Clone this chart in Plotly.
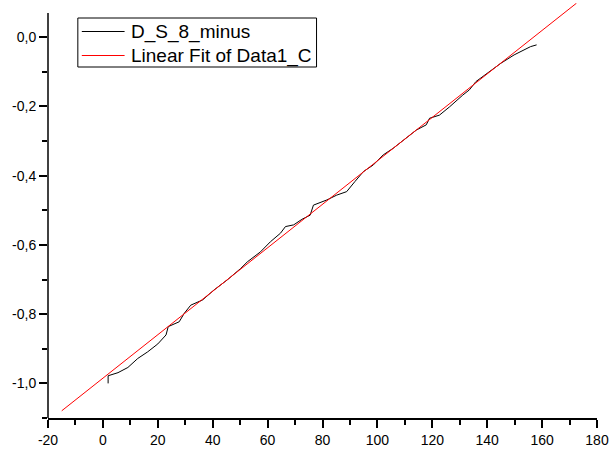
import plotly.graph_objects as go

# Measured cumulative curve (step data)
ds_x = [1.9, 1.9, 5.5, 9.1, 12.7, 16.3, 20.0, 23.0, 23.8, 27.8, 29.6, 32.0, 36.3,
        40.5, 45.3, 50.2, 52.6, 57.4, 61.0, 64.7, 66.5, 69.5, 72.5, 75.5, 76.7,
        81.6, 85.2, 88.8, 91.8, 94.9, 98.5, 102.1, 105.7, 108.7, 111.7, 114.2,
        117.8, 119.0, 122.6, 126.3, 131.1, 133.5, 135.9, 140.8, 145.0, 149.8,
        153.4, 155.8, 158.0]
ds_y = [-1.000, -0.978, -0.969, -0.954, -0.928, -0.909, -0.886, -0.860, -0.836,
        -0.822, -0.798, -0.774, -0.759, -0.730, -0.701, -0.668, -0.649, -0.620,
        -0.591, -0.566, -0.547, -0.542, -0.526, -0.514, -0.485, -0.470, -0.456,
        -0.446, -0.417, -0.388, -0.369, -0.340, -0.321, -0.302, -0.282, -0.268,
        -0.253, -0.234, -0.225, -0.201, -0.167, -0.152, -0.128, -0.099, -0.075,
        -0.051, -0.037, -0.027, -0.022]

# Linear fit parameters
fit_intercept = -0.985
fit_slope = 0.00628
fit_x_range = [-15.0, 172.5]

series_names = ["D_S_8_minus", "Linear Fit of Data1_C"]
series_colors = ["black", "#ff0000"]

x_tickvals = [-20, 0, 20, 40, 60, 80, 100, 120, 140, 160, 180]
x_ticktext = ["-20", "0", "20", "40", "60", "80", "100", "120", "140", "160", "180"]
y_tickvals = [0.0, -0.2, -0.4, -0.6, -0.8, -1.0]
y_ticktext = ["0,0", "-0,2", "-0,4", "-0,6", "-0,8", "-1,0"]

fit_y = [fit_intercept + fit_slope * x for x in fit_x_range]

FONT = "Liberation Sans, Arial, sans-serif"
W, H = 612, 452
ML, MR, MT, MB = 48, 12, 3, 34
PW, PH = W - ML - MR, H - MT - MB


def px_to_paper(px, py):
    return (px - ML) / PW, (H - MB - py) / PH


fig = go.Figure()
fig.add_trace(go.Scatter(
    x=ds_x, y=ds_y, mode="lines", name=series_names[0], showlegend=False,
    line=dict(color=series_colors[0], width=1),
))
fig.add_trace(go.Scatter(
    x=fit_x_range, y=fit_y, mode="lines", name=series_names[1], showlegend=False,
    line=dict(color=series_colors[1], width=1),
))

axis_common = dict(
    showgrid=False, zeroline=False,
    ticks="outside", ticklen=8, tickwidth=1.5, tickcolor="black",
    tickfont=dict(family=FONT, size=14, color="black"),
)

fig.update_xaxes(
    range=[-20, 180], tickmode="array", tickvals=x_tickvals, ticktext=x_ticktext,
    showline=True, linecolor="black", linewidth=1.5,
    minor=dict(dtick=10, tick0=0, ticks="outside", ticklen=5, tickwidth=1.5,
               tickcolor="black"),
    **axis_common,
)
fig.update_yaxes(
    range=[-1.1, 0.099], tickmode="array", tickvals=y_tickvals, ticktext=y_ticktext,
    showline=False,
    minor=dict(dtick=0.1, tick0=0, ticks="outside", ticklen=5, tickwidth=1.5,
               tickcolor="black"),
    **axis_common,
)

# Left axis line stops a little below the top of the plotting area
fig.add_shape(type="line", xref="paper", yref="y", x0=0, x1=0, y0=-1.1, y1=0.07,
              line=dict(color="black", width=1.5))

# Framed legend box
bx0, by0 = px_to_paper(78, 18)
bx1, by1 = px_to_paper(318, 67)
fig.add_shape(type="rect", xref="paper", yref="paper", x0=bx0, x1=bx1, y0=by1, y1=by0,
              line=dict(color="black", width=1), fillcolor="white", layer="above")
for i, (name, color) in enumerate(zip(series_names, series_colors)):
    row_py = 31.5 + 24 * i
    lx0, ly = px_to_paper(82, row_py)
    lx1, _ = px_to_paper(125, row_py)
    tx, _ = px_to_paper(129, row_py)
    fig.add_shape(type="line", xref="paper", yref="paper", x0=lx0, x1=lx1, y0=ly, y1=ly,
                  line=dict(color=color, width=1), layer="above")
    fig.add_annotation(xref="paper", yref="paper", x=tx, y=ly, text=name,
                       showarrow=False, xanchor="left", yanchor="middle",
                       font=dict(family=FONT, size=19, color="black"))

fig.update_layout(
    width=W, height=H,
    margin=dict(l=ML, r=MR, t=MT, b=MB),
    paper_bgcolor="white", plot_bgcolor="white",
    font=dict(family=FONT, size=14, color="black"),
    showlegend=False,
)

fig.write_html("out.html")
